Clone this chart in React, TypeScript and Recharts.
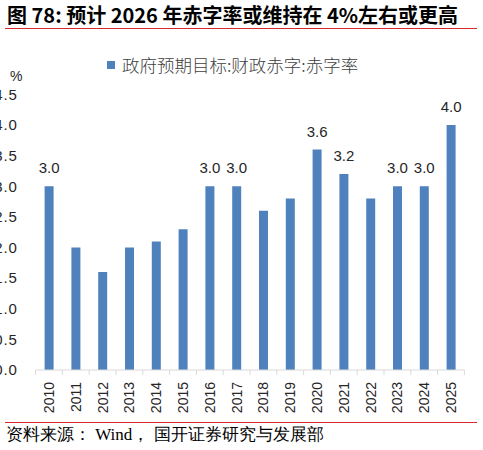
import React from "react";
import { BarChart, Bar, XAxis, YAxis, Legend, LabelList } from "recharts";

const years = [
  "2010", "2011", "2012", "2013", "2014", "2015", "2016", "2017",
  "2018", "2019", "2020", "2021", "2022", "2023", "2024", "2025",
];
const deficitRate = [3.0, 2.0, 1.6, 2.0, 2.1, 2.3, 3.0, 3.0, 2.6, 2.8, 3.6, 3.2, 2.8, 3.0, 3.0, 4.0];
// only these years carry a value label in the source
const labeledYears = ["2010", "2016", "2017", "2020", "2021", "2023", "2024", "2025"];
const yTicks = [0, 0.5, 1, 1.5, 2, 2.5, 3, 3.5, 4, 4.5];

const SERIES_NAME = "政府预期目标:财政赤字:赤字率";
const BAR_COLOR = "#4f81bd";
const AXIS_COLOR = "#d9d9d9";
const LATIN = "'Liberation Sans', Arial, sans-serif";

const chartData = years.map((year, i) => ({ year, rate: deficitRate[i] }));

const PLOT_LEFT = 35.6;
const PLOT_RIGHT = 18.6;
const CHART_W = 483;
const band = (CHART_W - PLOT_LEFT - PLOT_RIGHT) / years.length;

const YearTick = (props: any) => {
  const { x, y, payload, index } = props;
  const left = x - band / 2;
  return (
    <g>
      <line x1={left} y1={y} x2={left} y2={y + 5} stroke={AXIS_COLOR} />
      {index === years.length - 1 && (
        <line x1={x + band / 2} y1={y} x2={x + band / 2} y2={y + 5} stroke={AXIS_COLOR} />
      )}
      <text
        transform={`translate(${x + 5}, ${y + 12}) rotate(-90)`}
        textAnchor="end"
        fontSize={14}
        fontFamily={LATIN}
        fill="#262626"
      >
        {payload.value}
      </text>
    </g>
  );
};

const ValueLabel = (props: any) => {
  const { x, y, width, value, index } = props;
  if (!labeledYears.includes(years[index])) return null;
  return (
    <text
      x={x + width / 2}
      y={y - 13}
      textAnchor="middle"
      fontSize={15}
      fontFamily={LATIN}
      fill="#262626"
    >
      {Number(value).toFixed(1)}
    </text>
  );
};

const LegendBox = () => (
  <div style={{ display: "flex", alignItems: "center", fontFamily: "'Noto Sans CJK SC', sans-serif", fontSize: 17.5, color: "#404040", fontWeight: 300, whiteSpace: "nowrap" }}>
    <span style={{ width: 8, height: 8, background: BAR_COLOR, display: "inline-block", marginRight: 7 }} />
    <span>{SERIES_NAME}</span>
  </div>
);

export default function App() {
  return (
    <div style={{ position: "absolute", left: 0, top: 0, width: 483, height: 450, background: "#fff", overflow: "hidden" }}>
      <div
        style={{
          position: "absolute",
          left: 7,
          top: 5,
          lineHeight: "20px",
          fontSize: 20,
          fontWeight: 700,
          fontFamily: "'Noto Sans CJK SC', sans-serif",
          color: "#000",
          whiteSpace: "nowrap",
        }}
      >
        图 78: 预计 2026 年赤字率或维持在 4%左右或更高
      </div>
      <div style={{ position: "absolute", left: 5, top: 28, width: 472, height: 1, background: "#d7282f" }} />

      <div style={{ position: "absolute", left: 0, top: 0 }}>
        <BarChart
          width={CHART_W}
          height={450}
          data={chartData}
          margin={{ top: 94.4, right: PLOT_RIGHT, bottom: 30, left: 0 }}
        >
          <XAxis
            dataKey="year"
            height={50}
            interval={0}
            tickLine={false}
            tickSize={0}
            tickMargin={0}
            axisLine={{ stroke: AXIS_COLOR }}
            tick={<YearTick />}
          />
          <YAxis
            width={PLOT_LEFT}
            domain={[0, 4.5]}
            ticks={yTicks}
            interval={0}
            axisLine={false}
            tickLine={false}
            tickSize={0}
            tickMargin={18}
            tickFormatter={(v: number) => v.toFixed(1)}
            tick={{ fontSize: 15, fontFamily: LATIN, fill: "#262626", letterSpacing: 0.8 }}
          />
          <Legend
            layout="horizontal"
            verticalAlign="middle"
            align="center"
            content={<LegendBox />}
            wrapperStyle={{ position: "absolute", top: 52, left: 107, width: "auto" }}
          />
          <Bar dataKey="rate" name={SERIES_NAME} fill={BAR_COLOR} barSize={9} isAnimationActive={false}>
            <LabelList dataKey="rate" content={<ValueLabel />} />
          </Bar>
        </BarChart>
      </div>

      <div style={{ position: "absolute", left: 10, top: 69, fontSize: 14, fontFamily: LATIN, color: "#262626", lineHeight: "14px" }}>
        %
      </div>

      <div style={{ position: "absolute", left: 5, top: 422, width: 472, height: 1, background: "#d7282f" }} />
      <div
        style={{
          position: "absolute",
          left: 6,
          top: 426,
          fontSize: 17,
          lineHeight: "18px",
          fontFamily: "'Liberation Serif', 'Times New Roman', serif",
          color: "#000",
          whiteSpace: "nowrap",
        }}
      >
        资料来源： Wind， 国开证券研究与发展部
      </div>
    </div>
  );
}
